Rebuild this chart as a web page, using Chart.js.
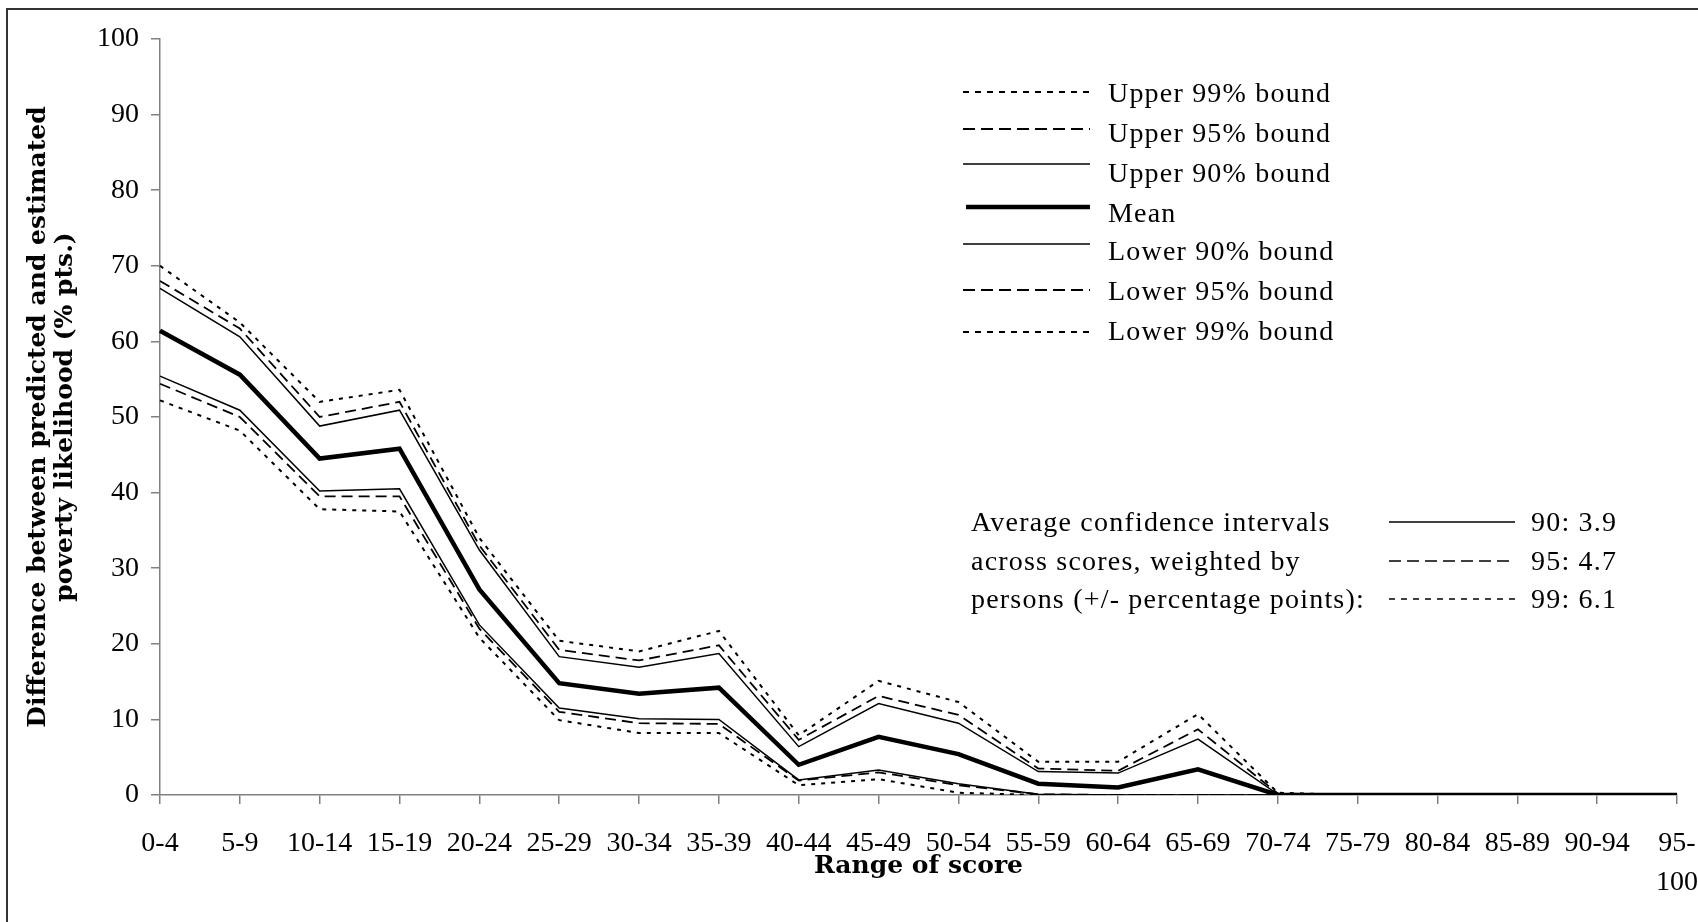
<!DOCTYPE html>
<html>
<head>
<meta charset="utf-8">
<script src="https://cdn.jsdelivr.net/npm/chart.js@4.4.1/dist/chart.umd.min.js"></script>
<style>
  html, body { margin: 0; padding: 0; background: #fff; }
  #wrap { position: relative; width: 1698px; height: 922px; }
</style>
</head>
<body>
<div id="wrap"><canvas id="grafik" width="1698" height="922"></canvas></div>
<script>
// ── VERI ──
const kategoriler = ['0-4', '5-9', '10-14', '15-19', '20-24', '25-29', '30-34', '35-39', '40-44', '45-49',
  '50-54', '55-59', '60-64', '65-69', '70-74', '75-79', '80-84', '85-89', '90-94', ['95-', '100']]

const ust99 = [70.0, 62.5, 52.0, 53.6, 34.0, 20.4, 19.0, 21.7, 7.9, 15.1, 12.3, 4.4, 4.4, 10.7, 0.3, 0, 0, 0, 0, 0]
const ust95 = [68.0, 61.7, 50.0, 52.0, 33.0, 19.2, 17.8, 19.8, 7.3, 13.1, 10.6, 3.5, 3.2, 8.7, 0.2, 0, 0, 0, 0, 0]
const ust90 = [67.0, 60.6, 48.8, 50.9, 32.4, 18.3, 16.9, 18.7, 6.4, 12.1, 9.5, 3.1, 2.9, 7.4, 0.1, 0, 0, 0, 0, 0]
const ortalama = [61.4, 55.6, 44.5, 45.8, 27.2, 14.8, 13.4, 14.2, 4.0, 7.7, 5.4, 1.5, 1.0, 3.4, 0, 0, 0, 0, 0, 0]
const alt90 = [55.4, 50.9, 40.2, 40.5, 22.5, 11.5, 10.1, 10.0, 2.0, 3.3, 1.5, 0.1, 0, 0, 0, 0, 0, 0, 0, 0]
const alt95 = [54.4, 50.0, 39.5, 39.5, 22.0, 11.0, 9.5, 9.4, 1.9, 3.0, 1.3, 0.1, 0, 0, 0, 0, 0, 0, 0, 0]
const alt99 = [52.2, 48.2, 37.8, 37.5, 20.8, 9.9, 8.2, 8.2, 1.3, 2.1, 0.3, 0, 0, 0, 0, 0, 0, 0, 0, 0]

const seriAdlari = ['Upper 99% bound', 'Upper 95% bound', 'Upper 90% bound', 'Mean',
  'Lower 90% bound', 'Lower 95% bound', 'Lower 99% bound']

// Ortalama guven araliklari (+/- puan)
const guvenSeviyeleri = [90, 95, 99]
const ortalamaAralik = [3.9, 4.7, 6.1]
const aciklamaSatirlari = ['Average confidence intervals', 'across scores, weighted by', 'persons (+/- percentage points):']

const YAZI = '"Liberation Serif", "Times New Roman", serif'
const KALIN = '"DejaVu Serif", serif'
const NOKTALI = [4, 6]
const KESIKLI = [11, 6]
// aciklamadaki kisa cizgiler biraz farkli
const LEJ_NOKTALI = [6, 6]
const LEJ_KESIKLI = [12, 6]

function cizgi(ad, veri, kalinlik, kesik) {
  return {
    label: ad,
    data: veri,
    borderColor: '#000',
    borderWidth: kalinlik,
    borderDash: kesik,
    pointRadius: 0,
    tension: 0,
    fill: false,
    borderCapStyle: 'butt',
    borderJoinStyle: 'miter'
  }
}

function lejKesik(ds) {
  if (ds.borderDash === NOKTALI) return LEJ_NOKTALI
  if (ds.borderDash === KESIKLI) return LEJ_KESIKLI
  return []
}

// ── Cerceve + aciklamalar ──
const ekler = {
  id: 'ekler',
  beforeDraw(chart) {
    const ctx = chart.ctx
    ctx.save()
    ctx.fillStyle = '#fff'
    ctx.fillRect(0, 0, chart.width, chart.height)
    ctx.strokeStyle = '#333'
    ctx.lineWidth = 2
    ctx.beginPath()
    ctx.moveTo(7, chart.height)
    ctx.lineTo(7, 9)
    ctx.lineTo(chart.width, 9)
    ctx.stroke()
    ctx.restore()
  },
  afterDraw(chart) {
    const ctx = chart.ctx
    ctx.save()
    ctx.font = '28px ' + YAZI
    ctx.letterSpacing = '1.2px'
    ctx.fillStyle = '#000'
    ctx.textBaseline = 'middle'
    ctx.textAlign = 'left'

    // seri aciklamasi
    const cizgiY = [92, 129, 164, 207, 244, 290, 332]
    const yaziY = [95, 135, 175, 215, 253, 293, 333]
    chart.data.datasets.forEach((ds, i) => {
      ctx.strokeStyle = '#000'
      ctx.lineWidth = ds.borderWidth
      ctx.setLineDash(lejKesik(ds))
      ctx.beginPath()
      ctx.moveTo(ds.borderWidth > 3 ? 966 : 963, cizgiY[i])
      ctx.lineTo(1090, cizgiY[i])
      ctx.stroke()
      ctx.fillText(ds.label, 1108, yaziY[i])
    })

    // ortalama aralik kutusu
    const kesikler = [[], LEJ_KESIKLI, LEJ_NOKTALI]
    const satirY = [524, 563, 601]
    aciklamaSatirlari.forEach((t, i) => {
      ctx.fillText(t, 971, satirY[i])
      ctx.lineWidth = 1.5
      ctx.setLineDash(kesikler[i])
      ctx.beginPath()
      ctx.moveTo(1389, satirY[i] - 2)
      ctx.lineTo(1515, satirY[i] - 2)
      ctx.stroke()
      ctx.fillText(`${guvenSeviyeleri[i]}: ${ortalamaAralik[i].toFixed(1)}`, 1531, satirY[i])
    })
    ctx.restore()
  }
}

new Chart(document.getElementById('grafik'), {
  type: 'line',
  data: {
    labels: kategoriler,
    datasets: [
      cizgi(seriAdlari[0], ust99, 2, NOKTALI),
      cizgi(seriAdlari[1], ust95, 1.8, KESIKLI),
      cizgi(seriAdlari[2], ust90, 1.5, []),
      cizgi(seriAdlari[3], ortalama, 4.5, []),
      cizgi(seriAdlari[4], alt90, 1.5, []),
      cizgi(seriAdlari[5], alt95, 1.8, KESIKLI),
      cizgi(seriAdlari[6], alt99, 2, NOKTALI)
    ]
  },
  plugins: [ekler],
  options: {
    responsive: false,
    animation: false,
    devicePixelRatio: 1,
    layout: { padding: { top: 39, right: 21, left: 0, bottom: 0 } },
    plugins: { legend: { display: false }, tooltip: { enabled: false } },
    scales: {
      x: {
        offset: false,
        afterFit: s => { s.height = 127; s.paddingLeft = 0; s.paddingRight = 0 },
        grid: { drawOnChartArea: false, drawTicks: true, tickLength: 9, color: '#808080', lineWidth: 1.5 },
        border: { display: true, color: '#808080', width: 1.5 },
        ticks: { autoSkip: false, maxRotation: 0, color: '#000', padding: 20,
          font: { family: YAZI, size: 28, lineHeight: 1.4 } },
        title: {
          display: true,
          text: 'Range of score',
          color: '#000',
          font: { family: KALIN, size: 25, weight: 'bold' },
          padding: { top: 0, bottom: 41 }
        }
      },
      y: {
        min: 0,
        max: 100,
        afterFit: s => { s.width = 160 },
        grid: { drawOnChartArea: false, drawTicks: true, tickLength: 9, color: '#808080', lineWidth: 1.5 },
        border: { display: true, color: '#808080', width: 1.5 },
        ticks: { stepSize: 10, color: '#000', padding: 12, font: { family: YAZI, size: 28 } },
        title: {
          display: true,
          text: ['Difference between predicted and estimated', 'poverty likelihood (% pts.)'],
          color: '#000',
          font: { family: KALIN, size: 25, weight: 'bold', lineHeight: 1.08 },
          padding: { top: 25, bottom: 0 }
        }
      }
    }
  }
})
</script>
</body>
</html>
